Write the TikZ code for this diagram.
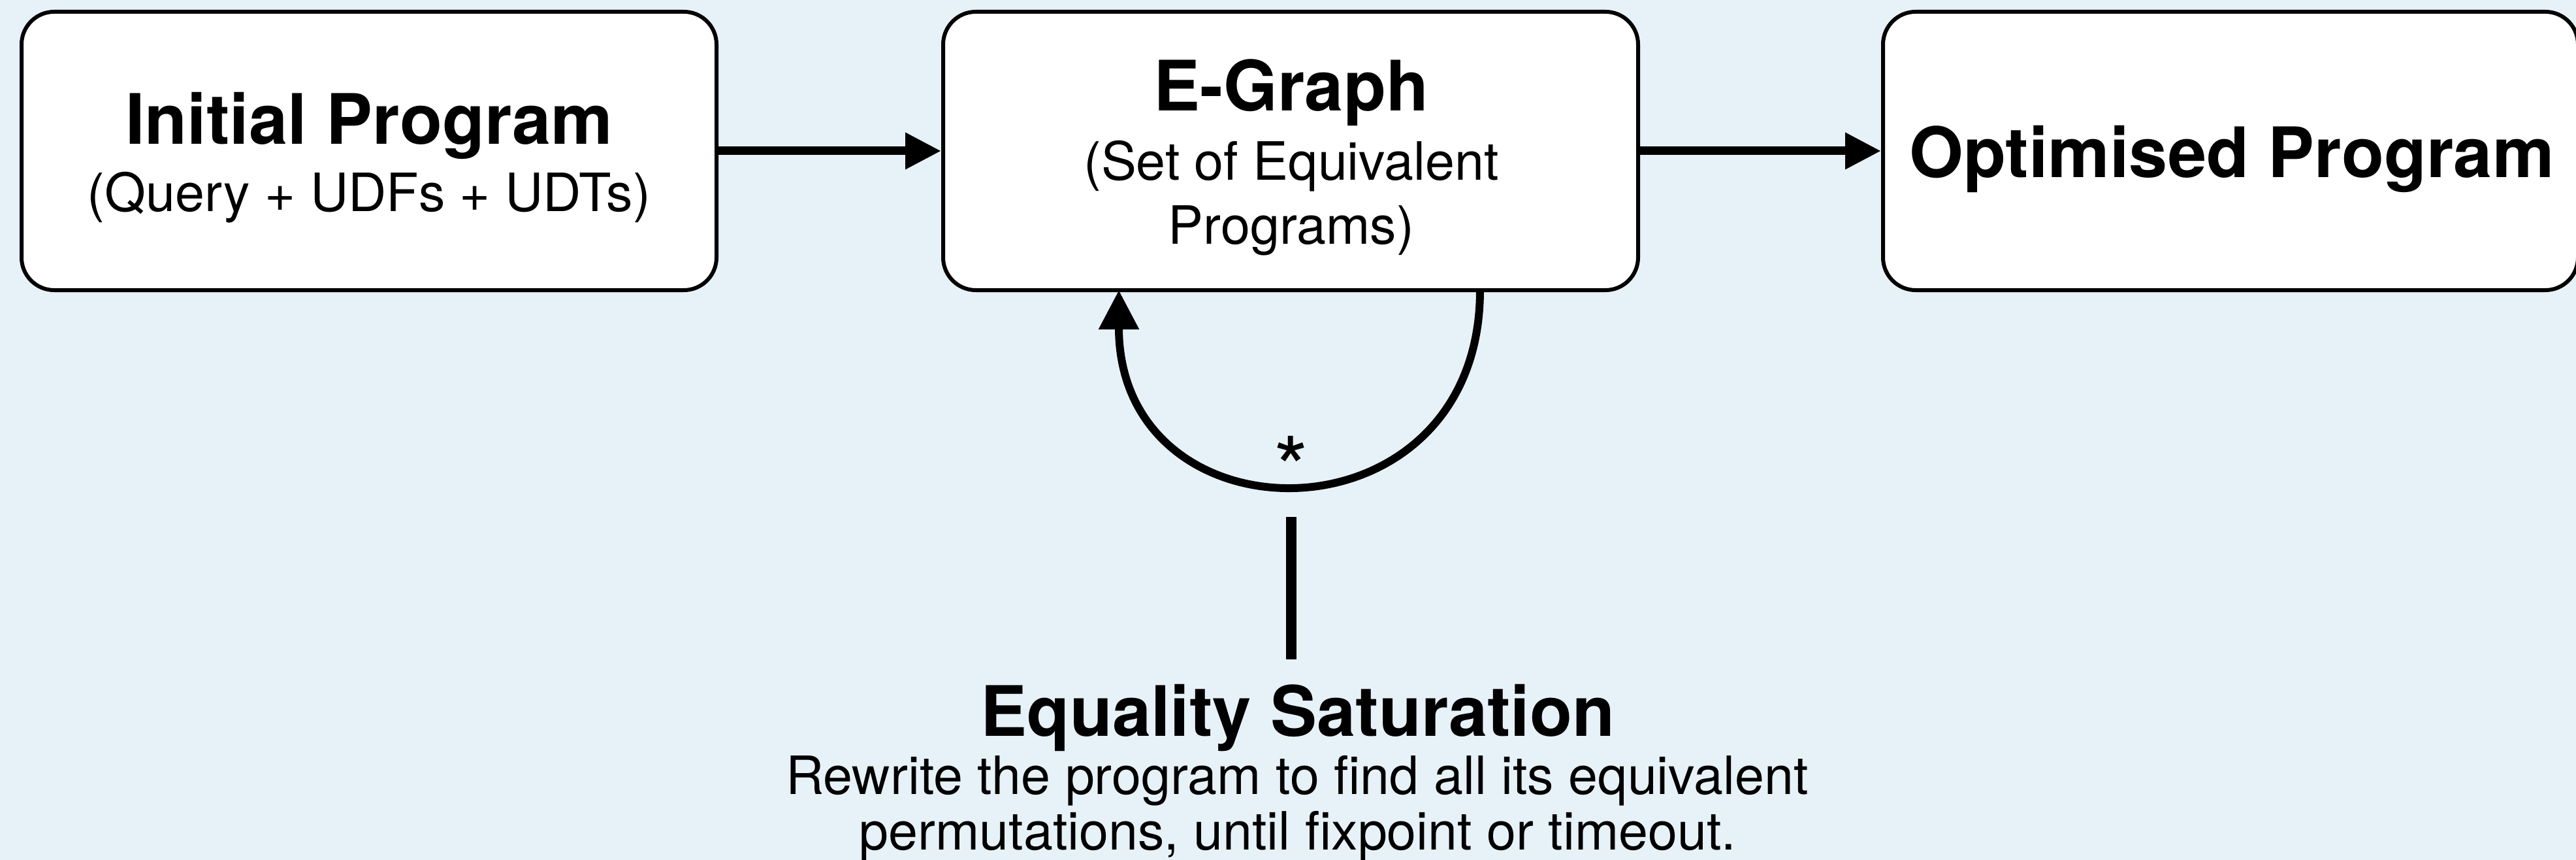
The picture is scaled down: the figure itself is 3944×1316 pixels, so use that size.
\documentclass[tikz,border=0pt]{standalone}
\usepackage{fontspec}
\setmainfont{TeX Gyre Heros}
\usetikzlibrary{arrows.meta}
\definecolor{bgc}{RGB}{231,242,248}
\begin{document}
\begin{tikzpicture}[x=0.25pt,y=-0.25pt,
  box/.style={draw=black, line width=1.5pt, fill=white, rounded corners=12.5pt,
    minimum width=266pt, minimum height=106.5pt, inner sep=0pt},
  ttl/.style={font=\fontsize{26.6}{30}\selectfont\bfseries, anchor=base, inner sep=0pt},
  sub/.style={font=\fontsize{20.2}{24}\selectfont, anchor=base, inner sep=0pt},
  flow/.style={line width=3.25pt, -{Triangle[length=13.75pt,width=13.25pt]}},
  loopar/.style={line width=3pt, -{Triangle[length=15pt,width=14.75pt]}},
]
\fill[bgc] (0,0) rectangle (3944,1316);
\useasboundingbox (0,0) rectangle (3944,1316);

\node[box] (ip) at (565,231) {};
\node[box] (eg) at (1976,231) {};
\node[box] (op) at (3415,231) {};

\node[ttl] (iptitle) at (565,221) {Initial Program};
\node[sub] (ipsub) at (565,324) {(Query + UDFs + UDTs)};

\node[ttl] (egtitle) at (1977,170) {E-Graph};
\node[sub] (egsub1) at (1977,276) {(Set of Equivalent};
\node[sub] (egsub2) at (1977,373) {Programs)};

\node[ttl] (optitle) at (3417,272) {Optimised Program};

\draw[flow] (ip.east) -- (eg.west);
\draw[flow] (eg.east) -- (op.west);

\coordinate (ls) at (2266,444);
\coordinate (le) at (1713,444);
\coordinate (c1) at (2266,838);
\coordinate (c2) at (1713,838);
\draw[loopar] (ls) .. controls (c1) and (c2) .. (le);

\node[font=\fontsize{34}{36}\selectfont, inner sep=0pt, anchor=base] (star) at (1977,766) {*};

\coordinate (vt) at (1977,791);
\coordinate (vb) at (1977,1009);
\draw[line width=4pt] (vt) -- (vb);

\node[ttl] (estitle) at (1987,1126) {Equality Saturation};
\node[sub] (es1) at (1986,1215) {Rewrite the program to find all its equivalent};
\node[sub] (es2) at (1987,1300) {permutations, until fixpoint or timeout.};
\end{tikzpicture}
\end{document}
